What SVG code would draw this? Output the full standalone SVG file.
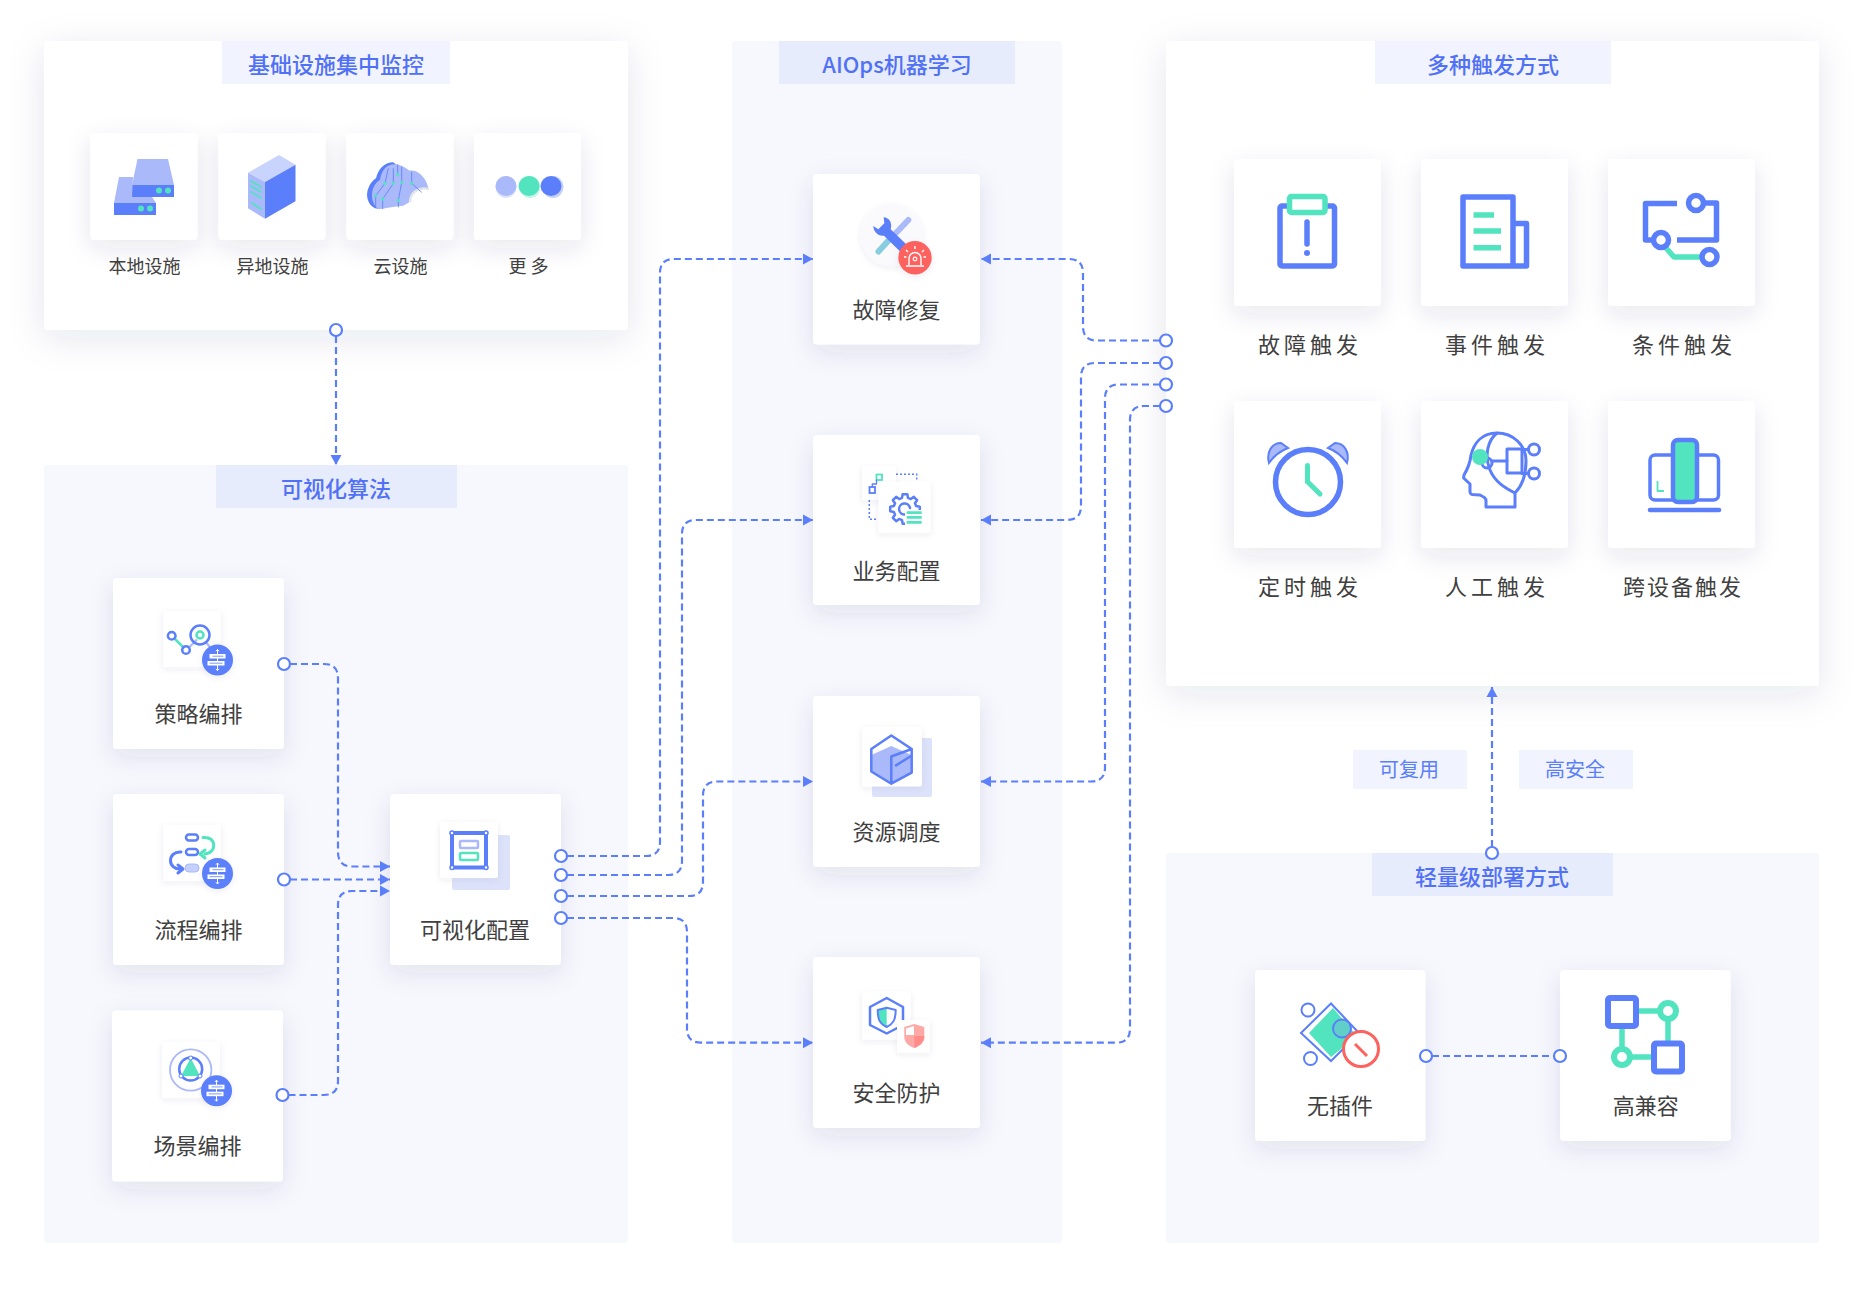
<svg xmlns="http://www.w3.org/2000/svg" xmlns:xlink="http://www.w3.org/1999/xlink" width="1862" height="1291" viewBox="0 0 1862 1291">
<style>
text{font-family:"Noto Sans CJK SC","Noto Sans",sans-serif;text-anchor:middle;dominant-baseline:central}
.h{font-size:22px;fill:#5070f6;font-weight:500}
.l{font-size:22px;fill:#404040}
.s{font-size:18px;fill:#404040}
.t{font-size:22px;fill:#404040;letter-spacing:4px}
.tag{font-size:20px;fill:#5b7ffb}
.conn{fill:none;stroke:#5b7ffb;stroke-width:2.200;stroke-dasharray:7 4}
.dot{fill:#fff;stroke:#5b7ffb;stroke-width:2.200}
.card{fill:#fff;filter:url(#cs)}
.ic{fill:none;stroke:#5b7ffb;stroke-width:5.500;stroke-linejoin:round}
.ig{fill:none;stroke:#52e3bf;stroke-width:5.500;stroke-linejoin:round}
.i2{fill:none;stroke:#5b7ffb;stroke-width:2.500;stroke-linejoin:round;stroke-linecap:round}
.g2{fill:none;stroke:#52e3bf;stroke-width:2.500;stroke-linejoin:round;stroke-linecap:round}
.b{fill:#5b7ffb}.g{fill:#52e3bf}.p{fill:#aab9fa}.bk{fill:#fff;filter:url(#ss)}
</style>
<defs>
<filter id="ps" x="-20%" y="-20%" width="140%" height="150%"><feDropShadow dx="0" dy="8" stdDeviation="18" flood-color="#20305a" flood-opacity=".1"/></filter>
<filter id="cs" x="-40%" y="-40%" width="180%" height="190%"><feDropShadow dx="0" dy="8" stdDeviation="12" flood-color="#30406a" flood-opacity=".11"/></filter>
<filter id="ss" x="-30%" y="-30%" width="160%" height="170%"><feDropShadow dx="0" dy="2" stdDeviation="3" flood-color="#30406a" flood-opacity=".08"/></filter>
<marker id="a" markerUnits="userSpaceOnUse" markerWidth="12" markerHeight="12" refX="10" refY="6" orient="auto"><path d="M0 .5 L10 6 L0 11.500Z" fill="#5b7ffb"/></marker>
<g id="badge">
<circle r="15.500" fill="#5b7ffb" filter="url(#ss)"/>
<path d="M0 -10.500V10.500M-1.500 -8.800L0 -10.500L1.500 -8.800M-1.500 8.800L0 10.500L1.500 8.800" stroke="#fff" stroke-width="1" fill="none"/>
<rect x="-8" y="-6" width="16" height="4.500" fill="#fff"/>
<rect x="-10" y="1" width="17" height="4.500" fill="#fff"/>
<path d="M-5 -3.800H6M-8 3.200H5" stroke="#5b7ffb" stroke-width=".8"/>
</g>
</defs>
<rect width="1862" height="1291" fill="#fff"/>
<g id="panels">
<rect id="panel-infra" x="44" y="41" width="584" height="289" rx="4" fill="#fff" filter="url(#ps)"/>
<rect x="222" y="41" width="228" height="43" fill="#f1f4fe"/>
<rect id="panel-algo" x="44" y="465" width="584" height="778" rx="4" fill="#f7f8fd"/>
<rect x="216" y="465" width="241" height="43" fill="#e7ecfd"/>
<rect id="panel-ml" x="732" y="41" width="330" height="1202" rx="4" fill="#f7f8fd"/>
<rect x="779" y="41" width="236" height="43" fill="#e7ecfd"/>
<rect id="panel-trigger" x="1166" y="41" width="653" height="645" rx="4" fill="#fff" filter="url(#ps)"/>
<rect x="1375" y="41" width="236" height="43" fill="#f1f4fe"/>
<rect id="panel-deploy" x="1166" y="853" width="653" height="390" rx="4" fill="#f7f8fd"/>
<rect x="1372" y="853" width="241" height="43" fill="#e7ecfd"/>
<text class="h" x="336" y="63">基础设施集中监控</text>
<text class="h" x="336" y="487">可视化算法</text>
<text class="h" x="897" y="63">AIOps机器学习</text>
<text class="h" x="1493" y="63">多种触发方式</text>
<text class="h" x="1492" y="875">轻量级部署方式</text>
</g>
<g id="tags">
<rect x="1353" y="750" width="114" height="39" fill="#f1f4fe"/><text class="tag" x="1409" y="768">可复用</text>
<rect x="1519" y="750" width="114" height="39" fill="#f1f4fe"/><text class="tag" x="1575" y="768">高安全</text>
</g>

<g id="infra-nodes">
<g id="n-local"><rect class="card" x="90.500" y="133" width="107" height="107" rx="4"/>
<path class="p" d="M137.500 159H168L174 185H132Z"/><rect class="b" x="132" y="185" width="42" height="12"/><circle class="g" cx="159" cy="190.500" r="3"/><circle class="g" cx="168" cy="190.500" r="3"/>
<path class="p" d="M119 177H133L132 197H152L156 203H114Z"/><rect class="b" x="114" y="203" width="42" height="12"/><circle class="g" cx="141" cy="208.500" r="3"/><circle class="g" cx="150" cy="208.500" r="3"/>
<text class="s" x="144.500" y="265">本地设施</text></g>
<g id="n-remote"><rect class="card" x="218.500" y="133" width="107" height="107" rx="4"/>
<path fill="#c9d4fd" d="M248 172.700L279 155L295.500 164.700L265 182Z"/><path class="b" d="M265 182L295.500 164.700V201.300L265 218.700Z"/><path class="p" d="M248 172.700L265 182V218.700L248 208.300Z"/>
<path class="g2" style="stroke-width:1.800" d="M251 181L261 187M251 186L261 192M251 192L261 198M252 203L261 209"/>
<text class="s" x="272.500" y="265">异地设施</text></g>
<g id="n-cloud"><rect class="card" x="346.500" y="133" width="107" height="107" rx="4"/>
<g transform="translate(360 155) scale(.3333)">
<path class="b" d="M45 160C25 150 15 125 25 100C30 85 40 75 48 70C55 40 75 22 100 22L110 30C80 32 65 50 62 75C50 80 40 95 38 115C38 135 45 150 60 162Z"/>
<path class="p" d="M55 163C38 150 32 125 38 105C42 90 52 82 60 75C65 45 80 28 105 28C125 28 135 40 150 47C170 42 200 65 206 104C176 94 150 115 150 140L130 152C100 155 75 160 55 163Z"/>
<path d="M206 102C174 94 150 115 150 142" fill="none" stroke="#e3e5ea" stroke-width="7"/>
<path fill="none" stroke="#5b7ffb" stroke-width="2.500" d="M113 28V58M100 40V85L68 132V162M85 40L75 85L47 122V158M125 35V82L115 136V157M155 50V85L185 112"/>
<g class="g"><circle cx="113" cy="58" r="5"/><circle cx="75" cy="85" r="5"/><circle cx="100" cy="85" r="5"/><circle cx="125" cy="82" r="5"/><circle cx="155" cy="85" r="5"/><circle cx="47" cy="122" r="5"/><circle cx="68" cy="132" r="5"/><circle cx="115" cy="136" r="5"/></g>
</g>
<text class="s" x="400.500" y="265">云设施</text></g>
<g id="n-more"><rect class="card" x="474" y="133" width="107" height="107" rx="4"/>
<ellipse cx="506" cy="187" rx="10.500" ry="11" fill="#dde4fd"/><ellipse cx="530" cy="187" rx="10.500" ry="11" fill="#c5f5e8"/><ellipse cx="553" cy="187" rx="10.500" ry="11" fill="#c5d1fc"/>
<ellipse class="p" cx="506" cy="186" rx="10.500" ry="10"/><ellipse class="g" cx="529" cy="186" rx="10.500" ry="10"/><ellipse class="b" cx="551" cy="186" rx="10.500" ry="10"/>
<text class="s" x="528.500" y="265">更 多</text></g>
</g>

<g id="algo-nodes">
<g id="n-strategy"><rect class="card" x="113" y="578" width="171" height="171" rx="4"/>
<rect class="bk" x="163" y="611" width="58" height="56"/>
<path class="g2" d="M174.500 638.500L183.500 647.500"/><path d="M189 647.500L197 639.500M206.500 643L210 647" stroke="#aab9fa" stroke-width="2.200" fill="none"/>
<circle class="i2" cx="171.700" cy="635.700" r="3.800"/><circle class="i2" cx="186" cy="650" r="3.800"/><circle class="i2" cx="200" cy="635" r="9.500"/><circle class="g2" cx="200" cy="635" r="3.500"/>
<use xlink:href="#badge" x="217.500" y="660"/>
<text class="l" x="198.500" y="711.500">策略编排</text></g>
<g id="n-flow"><rect class="card" x="113" y="794" width="171" height="171" rx="4"/>
<rect class="bk" x="163" y="825" width="58" height="56"/>
<rect class="i2" x="186" y="834.500" width="12" height="6" rx="3"/><rect class="i2" x="186" y="849" width="12" height="6" rx="3"/><rect x="185" y="864" width="14" height="8" rx="4" fill="#c5d1fc" stroke="#aab9fa"/>
<path class="g2" d="M203 837.500C217 836 217 853 205 854M205 850l-5 4 5 4" style="stroke-width:3"/>
<path class="i2" d="M181 852C167 851 167 870 181 869M178 865l5 4-5 4" style="stroke-width:3"/>
<use xlink:href="#badge" x="217.500" y="873.500"/>
<text class="l" x="198.500" y="927.500">流程编排</text></g>
<g id="n-scene"><rect class="card" x="112" y="1010.500" width="171" height="171" rx="4"/>
<rect class="bk" x="162" y="1042" width="58" height="56"/>
<circle cx="190.700" cy="1070" r="20.700" fill="none" stroke="#aab9fa" stroke-width="1.800"/><circle class="i2" cx="190.700" cy="1069" r="11.500"/><path class="g" d="M190.700 1058L200 1076H181Z"/>
<g class="dot" style="stroke-width:1"><circle cx="190.700" cy="1058" r="2"/><circle cx="181" cy="1076" r="2"/><circle cx="200" cy="1076" r="2"/></g>
<use xlink:href="#badge" x="216.500" y="1090.700"/>
<text class="l" x="197.500" y="1143.500">场景编排</text></g>
<g id="n-visual"><rect class="card" x="390" y="794" width="171" height="171" rx="4"/>
<rect x="452" y="835" width="58" height="55" rx="2" fill="#dde2fb"/><rect class="bk" x="440" y="822" width="58" height="56" rx="2"/>
<rect class="ic" style="stroke-width:4" x="452" y="833" width="34" height="34.500"/>
<rect x="460" y="841" width="18" height="7" rx="1" fill="#fff" stroke="#aab9fa" stroke-width="2.500"/><rect x="460" y="853" width="18" height="7" rx="1" fill="#fff" stroke="#52e3bf" stroke-width="2.500"/>
<g class="dot" style="stroke-width:1.500"><circle cx="452" cy="833" r="2"/><circle cx="486" cy="833" r="2"/><circle cx="452" cy="867.500" r="2"/><circle cx="486" cy="867.500" r="2"/></g>
<text class="l" x="475" y="927.500">可视化配置</text></g>
</g>

<g id="ml-nodes">
<g id="n-repair"><rect class="card" x="813" y="174" width="167" height="170.500" rx="4"/>
<circle cx="891.700" cy="235" r="31" fill="#fafafc" filter="url(#ss)"/>
<path d="M908.300 220L896 233" stroke="#aab9fa" stroke-width="6" stroke-linecap="round"/><path d="M888 241L878.500 251.500" stroke="#8accdf" stroke-width="6" stroke-linecap="round"/>
<g transform="translate(850 190) scale(.3333)"><path class="b" d="M101 82C118 83 128 100 122 118L172 166L152 186L102 137C85 140 70 125 70 108L85 118L103 100Z"/></g>
<circle cx="915" cy="257.700" r="16.700" fill="#fd625e" filter="url(#ss)"/>
<path d="M909 265V258.500a6 6 0 0 1 12 0V265M906 266H924M915 246V249M906 250L908 252M924 250L922 252M904 257H906.500M926 257H923.500" fill="none" stroke="#fff" stroke-width="1.400"/><circle cx="915" cy="259" r="1.800" fill="none" stroke="#fff" stroke-width="1.200"/>
<text class="l" x="896.500" y="307.500">故障修复</text></g>
<g id="n-biz"><rect class="card" x="813" y="435" width="167" height="170" rx="4"/>
<rect class="bk" x="862" y="466.600" width="34" height="33.400"/>
<path d="M896 474.300H916.700V481.600M869.300 500V519.300H878" fill="none" stroke="#5b7ffb" stroke-width="1.500" stroke-dasharray="2 2"/>
<rect class="bk" x="878.500" y="481.700" width="52" height="51"/>
<rect x="876.500" y="474.500" width="5.500" height="5.500" fill="none" stroke="#52e3bf" stroke-width="1.800"/><rect x="869.500" y="487" width="5.500" height="6" fill="none" stroke="#5b7ffb" stroke-width="1.800"/><path class="i2" style="stroke-width:1.300" d="M872.300 487V484H876.500V480"/>
<g transform="translate(905 509)"><path class="i2" d="M-2.350-14.800L2.350-14.800L2.980-11.100L5.750-9.960L8.820-12.140L12.140-8.820L9.960-5.750L11.100-2.980L14.800-2.350L14.800 2.350L11.100 2.980L9.960 5.750L12.140 8.820L8.820 12.140L5.750 9.960L2.980 11.100L2.350 14.800L-2.350 14.800L-2.980 11.100L-5.750 9.960L-8.820 12.140L-12.140 8.820L-9.960 5.750L-11.100 2.980L-14.800 2.350L-14.800-2.350L-11.100-2.980L-9.960-5.750L-12.140-8.820L-8.820-12.140L-5.750-9.960L-2.980-11.100Z"/><path class="i2" d="M5 -1A5.500 5.500 0 1 0 0 5.500"/></g>
<rect x="905" y="510" width="18" height="15" fill="#fff"/><path class="g2" style="stroke-linecap:butt;stroke-width:2.800" d="M906.700 512.700H921.700M906.700 517.300H921.700M906.700 522.300H921.700"/>
<text class="l" x="896.500" y="569">业务配置</text></g>
<g id="n-sched"><rect class="card" x="813" y="696" width="167" height="171" rx="4"/>
<rect x="872" y="738" width="60" height="59" rx="2" fill="#dde2fb"/><rect class="bk" x="862" y="727" width="60" height="59.400" rx="2"/>
<path class="p" d="M871.300 755L891.300 746L911.700 755V772.600L891.300 783.700L871.300 771.500Z"/>
<path class="i2" d="M891.300 735.500L911.700 749V772.600L891.300 783.700L871.300 771.500V749ZM891.300 783.700V756.500L911.700 749M896 765.400L911 756"/>
<text class="l" x="896.500" y="829.500">资源调度</text></g>
<g id="n-sec"><rect class="card" x="813" y="957" width="167" height="171" rx="4"/>
<rect class="bk" x="862" y="991.400" width="48.700" height="48.300"/>
<path class="i2" d="M886.700 998L903 1007V1025L886.700 1033.500L870 1025V1007Z"/>
<rect class="bk" x="897" y="1020" width="33" height="32.700"/>
<path class="g" d="M877.700 1010L886.700 1007.700V1027C880 1024 877.700 1020 877.700 1010Z"/><path class="i2" style="stroke-width:2" d="M877.700 1010L886.700 1007.700L895.700 1010C895.700 1020 893 1024 886.700 1027C880 1024 877.700 1020 877.700 1010Z"/>
<path fill="#ffa9a7" d="M904.300 1027L914.300 1024L924.300 1027V1037C924.300 1043 919 1046 914.300 1048C909 1046 904.300 1043 904.300 1037Z"/><path fill="#fff" d="M906 1028.500L914 1026V1035H906Z"/><path fill="#ff8c89" d="M914.300 1036H924.300C924.300 1043 919 1046 914.300 1048Z"/>
<text class="l" x="896.500" y="1090.500">安全防护</text></g>
</g>

<g id="trigger-nodes">
<g id="n-t1"><rect class="card" x="1234" y="159" width="147" height="147" rx="4"/>
<rect class="ic" x="1280" y="206" width="54.500" height="60" rx="2"/><rect x="1289.500" y="196.500" width="35.500" height="16" rx="2" fill="#fff" stroke="#52e3bf" stroke-width="5.500"/>
<path d="M1307 222V244" stroke="#5b7ffb" stroke-width="5.500" stroke-linecap="round"/><circle class="b" cx="1307" cy="253" r="3"/>
<text class="t" x="1310" y="343">故障触发</text></g>
<g id="n-t2"><rect class="card" x="1421" y="159" width="147" height="147" rx="4"/>
<path class="ic" d="M1463 197H1513V266H1463ZM1513 223.500H1526.500V266H1513"/>
<path class="ig" style="stroke-linejoin:miter" d="M1473.500 215H1494M1473.500 231H1501M1473.500 247.700H1501"/>
<text class="t" x="1497" y="343">事件触发</text></g>
<g id="n-t3"><rect class="card" x="1608" y="159" width="147" height="147" rx="4"/>
<path class="ic" d="M1677 203.500H1645.500V240H1652M1704 203H1716.500V240H1677"/>
<path class="ig" d="M1665 246.700L1674 257H1701"/>
<circle class="i2" style="stroke-width:5.500" cx="1661" cy="240" r="7.500"/><circle class="i2" style="stroke-width:5.500" cx="1696" cy="203" r="7.500"/><circle class="i2" style="stroke-width:5.500" cx="1709.500" cy="257" r="7.500"/>
<text class="t" x="1684" y="343">条件触发</text></g>
<g id="n-t4"><rect class="card" x="1234" y="401" width="147" height="147" rx="4"/>
<path class="p" d="M1269 463C1266 452 1272 443 1281 443L1288 448C1280 451 1274 456 1269 463Z" stroke="#5b7ffb" stroke-width="2"/>
<path class="p" d="M1347 463C1350 452 1344 443 1335 443L1328 448C1336 451 1342 456 1347 463Z" stroke="#5b7ffb" stroke-width="2"/>
<circle class="ic" cx="1308" cy="482" r="32.500"/>
<path d="M1307.500 465.500V481.700" stroke="#52e3bf" stroke-width="5" stroke-linecap="round" fill="none"/><path d="M1307.500 481.700L1320 494" stroke="#52e3bf" stroke-width="5" stroke-linecap="round" fill="none"/>
<text class="t" x="1310" y="585">定时触发</text></g>
<g id="n-t5"><rect class="card" x="1421" y="401" width="147" height="147" rx="4"/>
<path class="i2" style="stroke-width:3" d="M1515 507V493C1522 486 1526 475 1526 461C1526 445 1513 433 1497 433C1482 433 1474 443 1471 455C1470 465 1467 470 1464 475L1463.600 478L1470 484V492C1470 496 1475 494 1480 495C1484 497 1486 498 1486 501V507ZM1497 433C1488 440 1484 455 1490 470C1495 482 1505 488 1515 493M1492 461H1507"/>
<rect class="i2" style="stroke-width:3" x="1507" y="449" width="15" height="24"/>
<circle class="i2" style="stroke-width:3" cx="1534" cy="449.500" r="5.500"/><circle class="i2" style="stroke-width:3" cx="1534" cy="473.500" r="5.500"/><path class="i2" style="stroke-width:3" d="M1522 449.500H1528M1522 473.500H1528"/>
<circle class="i2" style="stroke-width:3" cx="1487" cy="463" r="5"/><circle class="g" cx="1480" cy="457" r="8"/>
<text class="t" x="1497" y="585">人工触发</text></g>
<g id="n-t6"><rect class="card" x="1608" y="401" width="147" height="147" rx="4"/>
<rect class="i2" style="stroke-width:3.500" x="1650" y="455" width="68.500" height="45" rx="5"/>
<rect x="1673" y="440" width="24" height="62" rx="5" fill="#52e3bf" stroke="#5b7ffb" stroke-width="4.500"/>
<path class="g2" style="stroke-linecap:butt;stroke-width:1.800" d="M1657.500 481V491H1664"/>
<path d="M1650 510H1719" stroke="#5b7ffb" stroke-width="4.500" stroke-linecap="round"/>
<text class="t" style="letter-spacing:2px" x="1683" y="585">跨设备触发</text></g>
</g>

<g id="deploy-nodes">
<g id="n-noplugin"><rect class="card" x="1255" y="970" width="170.500" height="171" rx="4"/>
<circle class="i2" style="stroke-width:2" cx="1308" cy="1010" r="6.500"/><circle class="i2" style="stroke-width:2" cx="1310.500" cy="1058.500" r="6.500"/>
<path fill="#fff" stroke="#5b7ffb" stroke-width="2" d="M1301 1033L1331 1003.500L1359 1033L1331 1061Z"/>
<path class="g" d="M1309 1033L1333 1008L1357 1036L1331 1057Z"/>
<circle cx="1342" cy="1028.500" r="9" fill="#5fcfc8" stroke="#5b7ffb" stroke-width="2"/>
<circle cx="1361" cy="1049" r="17.500" fill="#fff" stroke="#fd625e" stroke-width="3"/><path d="M1355 1044L1367 1056" stroke="#fd625e" stroke-width="3"/>
<text class="l" x="1340" y="1104">无插件</text></g>
<g id="n-compat"><rect class="card" x="1560" y="970" width="170.700" height="171" rx="4"/>
<path class="ig" d="M1639 1011H1668V1041M1622 1028V1057H1651"/>
<circle cx="1668" cy="1011" r="8" fill="#fff" stroke="#52e3bf" stroke-width="6"/><circle cx="1622" cy="1057" r="8" fill="#fff" stroke="#52e3bf" stroke-width="6"/>
<rect x="1608" y="998" width="28" height="28" rx="2" fill="#fff" stroke="#5b7ffb" stroke-width="6"/><rect x="1654" y="1043.500" width="28" height="28" rx="2" fill="#fff" stroke="#5b7ffb" stroke-width="6"/>
<text class="l" x="1645.700" y="1104">高兼容</text></g>
</g>

<g id="connectors">
<path class="conn" marker-end="url(#a)" d="M336 336V465"/>
<path class="conn" marker-end="url(#a)" d="M1492 847V687"/>
<path class="conn" d="M1432 1056H1554"/>
<path class="conn" marker-end="url(#a)" d="M290 664H324Q338 664 338 678V852Q338 866.500 352 866.500H390"/>
<path class="conn" marker-end="url(#a)" d="M290 879.500H390"/>
<path class="conn" marker-end="url(#a)" d="M288.500 1095H324Q338 1095 338 1081V905Q338 891 352 891H390"/>
<path class="conn" marker-end="url(#a)" d="M567 856H646Q660 856 660 842V273Q660 259 674 259H813"/>
<path class="conn" marker-end="url(#a)" d="M567 875H668Q682 875 682 861V534Q682 520 696 520H813"/>
<path class="conn" marker-end="url(#a)" d="M567 896H689Q703 896 703 882V795.500Q703 781.500 717 781.500H813"/>
<path class="conn" marker-end="url(#a)" d="M567 918H673Q687 918 687 932V1028.700Q687 1042.700 701 1042.700H813"/>
<path class="conn" marker-end="url(#a)" d="M1160 340.500H1097Q1083 340.500 1083 326.500V273Q1083 259 1069 259H981"/>
<path class="conn" marker-end="url(#a)" d="M1160 363H1095Q1081 363 1081 377V506Q1081 520 1067 520H981"/>
<path class="conn" marker-end="url(#a)" d="M1160 384.500H1119Q1105 384.500 1105 398.500V767.500Q1105 781.500 1091 781.500H981"/>
<path class="conn" marker-end="url(#a)" d="M1160 406H1144Q1130 406 1130 420V1028.700Q1130 1042.700 1116 1042.700H981"/>
<g id="dots" class="dot">
<circle cx="336" cy="330" r="6"/><circle cx="1492" cy="853" r="6"/>
<circle cx="1426" cy="1056" r="6"/><circle cx="1560" cy="1056" r="6"/>
<circle cx="284" cy="664" r="6"/><circle cx="284" cy="879.500" r="6"/><circle cx="282.500" cy="1095" r="6"/>
<circle cx="561" cy="856" r="6"/><circle cx="561" cy="875" r="6"/><circle cx="561" cy="896" r="6"/><circle cx="561" cy="918" r="6"/>
<circle cx="1166" cy="340.500" r="6"/><circle cx="1166" cy="363" r="6"/><circle cx="1166" cy="384.500" r="6"/><circle cx="1166" cy="406" r="6"/>
</g>
</g>
</svg>
